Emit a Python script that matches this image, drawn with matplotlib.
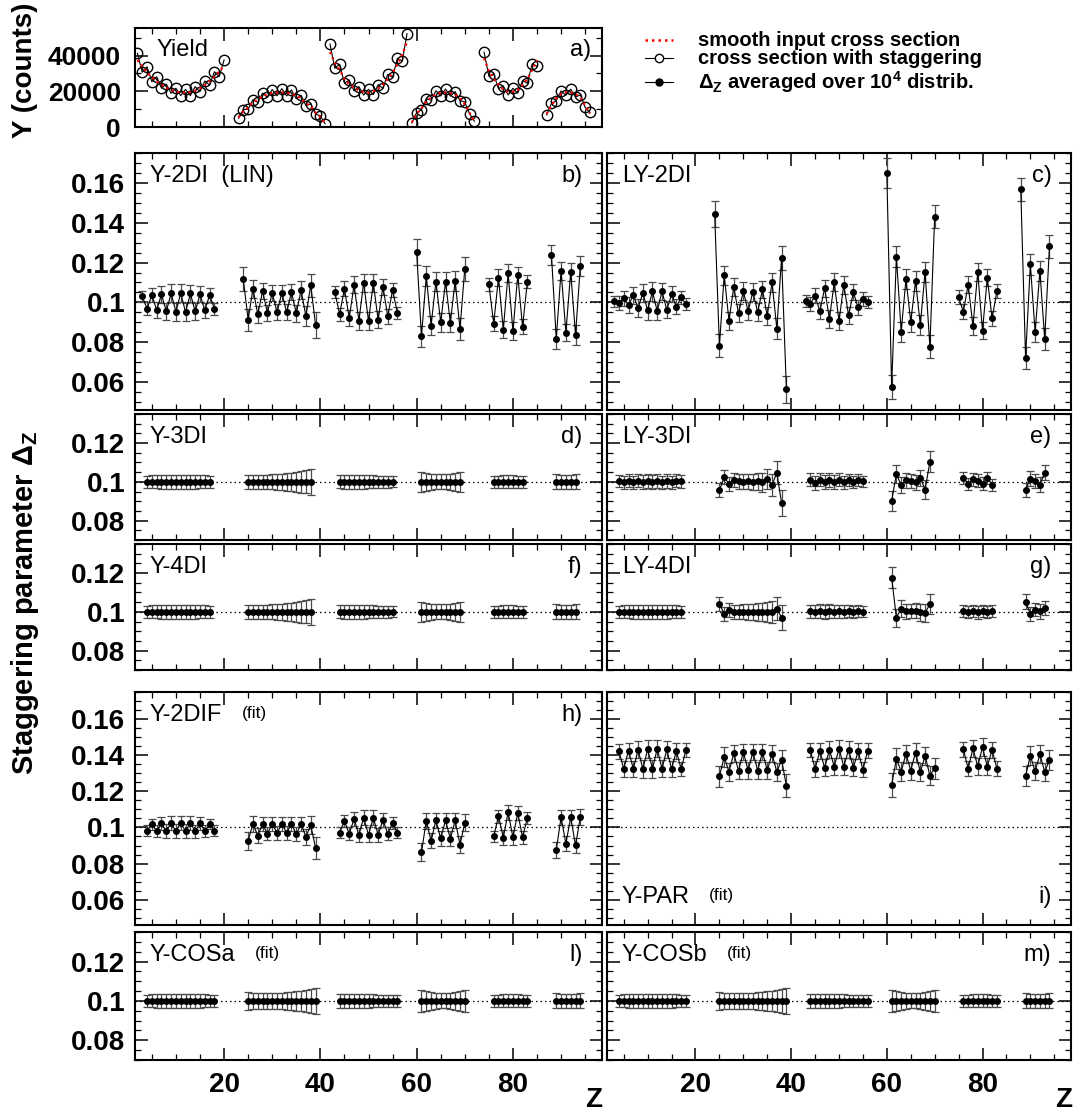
import matplotlib
matplotlib.use('Agg')
import matplotlib.pyplot as plt
from matplotlib.ticker import MultipleLocator, FuncFormatter
from matplotlib.lines import Line2D
import numpy as np

plt.rcParams['font.family'] = ['Liberation Sans', 'DejaVu Sans']
plt.rcParams['mathtext.fontset'] = 'custom'
plt.rcParams['mathtext.rm'] = 'Liberation Sans'
plt.rcParams['mathtext.it'] = 'Liberation Sans:italic'
plt.rcParams['mathtext.bf'] = 'Liberation Sans:bold'

# ---------------- data ----------------
# Yield panel (a)
yield_z0 = [2, 23, 42, 59, 74, 87]
yield_vals = [
    [41300, 30650, 33800, 25400, 28200, 21700, 24100, 18900, 21700, 17600, 21100, 17600, 22600, 19800, 25800, 23500, 31000, 28200, 37600],
    [4900, 9800, 10000, 15300, 13800, 19000, 16600, 21000, 17500, 21500, 17400, 20800, 15800, 17800, 12000, 13000, 7300, 6200, 1800],
    [46500, 32900, 35100, 24500, 26300, 20200, 22600, 17900, 21100, 18200, 23700, 21700, 29500, 27800, 38500, 36900, 52300],
    [2300, 8100, 9600, 15800, 15000, 20300, 17400, 21300, 17300, 19800, 14800, 14000, 7300, 3300],
    [42000, 28500, 29800, 21500, 23000, 18000, 21700, 19000, 26000, 24500, 35500, 34000],
    [6800, 13200, 14800, 20200, 17800, 21200, 16800, 18000, 11000, 8200],
]
smooth_vals = [
    [37500, 34000, 30500, 28000, 25500, 23800, 22000, 20800, 19800, 19300, 19200, 19500, 20300, 21700, 23500, 25800, 28200, 31000, 34500],
    [5400, 8900, 11000, 13900, 15200, 17300, 18200, 19100, 19300, 19500, 19100, 18900, 17400, 16200, 13200, 11800, 8100, 5600, 2000],
    [42000, 36000, 32000, 27000, 24000, 22200, 20600, 19700, 19300, 20000, 21500, 23800, 26800, 30500, 35000, 40500, 47500],
    [2500, 7400, 10500, 14400, 16500, 18500, 19100, 19400, 19000, 18000, 16300, 12700, 8000, 3000],
    [38500, 31500, 27000, 23700, 21000, 19800, 19800, 20800, 23500, 27000, 32000, 37500],
    [7400, 12000, 16200, 18500, 19600, 19400, 18500, 16500, 12100, 7500],
]

# first Z of each group for each method
z0_2di = [3, 24, 43, 60, 75, 88]
z0_3di = [4, 25, 44, 61, 76, 89]
z0_fit = [4, 25, 44, 61, 76, 89]

# (b) Y-2DI
b_vals = [
    [0.1030, 0.0968, 0.1037, 0.0961, 0.1040, 0.0955, 0.1045, 0.0953, 0.1047, 0.0951, 0.1045, 0.0955, 0.1040, 0.0960, 0.1037, 0.0968],
    [0.1116, 0.0913, 0.1069, 0.0940, 0.1057, 0.0948, 0.1049, 0.0950, 0.1049, 0.0950, 0.1052, 0.0945, 0.1062, 0.0930, 0.1087, 0.0888],
    [0.1052, 0.0941, 0.1069, 0.0921, 0.1089, 0.0908, 0.1099, 0.0906, 0.1097, 0.0913, 0.1079, 0.0930, 0.1062, 0.0948],
    [0.1255, 0.0829, 0.1132, 0.0884, 0.1104, 0.0901, 0.1104, 0.0898, 0.1109, 0.0868, 0.1169],
    [0.1092, 0.0894, 0.1124, 0.0864, 0.1146, 0.0856, 0.1137, 0.0878, 0.1104],
    [0.1240, 0.0816, 0.1159, 0.0849, 0.1153, 0.0837, 0.1183],
]
b_errs = [
    [0.0029, 0.0033, 0.0037, 0.0040, 0.0042, 0.0044, 0.0045, 0.0046, 0.0046, 0.0045, 0.0044, 0.0042, 0.0040, 0.0037, 0.0033, 0.0029],
    [0.0060, 0.0055, 0.0045, 0.0042, 0.0040, 0.0040, 0.0040, 0.0040, 0.0040, 0.0040, 0.0040, 0.0042, 0.0045, 0.0050, 0.0058, 0.0065],
    [0.0030, 0.0033, 0.0037, 0.0040, 0.0043, 0.0045, 0.0046, 0.0046, 0.0045, 0.0043, 0.0040, 0.0037, 0.0033, 0.0030],
    [0.0065, 0.0055, 0.0050, 0.0048, 0.0047, 0.0047, 0.0047, 0.0048, 0.0050, 0.0055, 0.0060],
    [0.0033, 0.0037, 0.0042, 0.0045, 0.0046, 0.0045, 0.0042, 0.0037, 0.0033],
    [0.0050, 0.0050, 0.0045, 0.0045, 0.0045, 0.0050, 0.0050],
]
# (c) LY-2DI
c_vals = [
    [0.1005, 0.0997, 0.1020, 0.0988, 0.1035, 0.0972, 0.1047, 0.0960, 0.1055, 0.0956, 0.1055, 0.0963, 0.1040, 0.0978, 0.1025, 0.0992],
    [0.1446, 0.0782, 0.1137, 0.0908, 0.1077, 0.0945, 0.1057, 0.0955, 0.1054, 0.0951, 0.1065, 0.0931, 0.1101, 0.0868, 0.1225, 0.0563],
    [0.1007, 0.0992, 0.1034, 0.0955, 0.1072, 0.0915, 0.1101, 0.0906, 0.1089, 0.0935, 0.1050, 0.0975, 0.1017, 0.1000],
    [0.1649, 0.0576, 0.1230, 0.0853, 0.1117, 0.0903, 0.1107, 0.0888, 0.1153, 0.0777, 0.1431],
    [0.1025, 0.0953, 0.1089, 0.0881, 0.1151, 0.0859, 0.1124, 0.0920, 0.1055],
    [0.1568, 0.0722, 0.1191, 0.0851, 0.1158, 0.0816, 0.1282],
]
c_errs = [
    [0.0029, 0.0033, 0.0037, 0.0040, 0.0042, 0.0044, 0.0045, 0.0046, 0.0046, 0.0045, 0.0044, 0.0042, 0.0040, 0.0037, 0.0033, 0.0029],
    [0.0065, 0.0057, 0.0048, 0.0045, 0.0045, 0.0045, 0.0045, 0.0045, 0.0045, 0.0045, 0.0045, 0.0045, 0.0048, 0.0052, 0.0060, 0.0070],
    [0.0030, 0.0033, 0.0037, 0.0040, 0.0043, 0.0045, 0.0046, 0.0046, 0.0045, 0.0043, 0.0040, 0.0037, 0.0033, 0.0030],
    [0.0075, 0.0060, 0.0052, 0.0050, 0.0050, 0.0050, 0.0050, 0.0050, 0.0052, 0.0057, 0.0058],
    [0.0035, 0.0038, 0.0042, 0.0044, 0.0045, 0.0044, 0.0042, 0.0038, 0.0035],
    [0.0058, 0.0055, 0.0052, 0.0052, 0.0052, 0.0055, 0.0058],
]
# (d) Y-3DI, (f) Y-4DI : flat at 0.1
d_vals = [[0.1] * 14, [0.1] * 14, [0.1] * 12, [0.1] * 9, [0.1] * 7, [0.1] * 5]
f_vals = [[0.1] * 14, [0.1] * 14, [0.1] * 12, [0.1] * 9, [0.1] * 7, [0.1] * 5]
hi_errs = [
    [0.0032, 0.0033, 0.0034, 0.0035, 0.0035, 0.0036, 0.0036, 0.0036, 0.0036, 0.0035, 0.0035, 0.0034, 0.0033, 0.0032],
    [0.0037, 0.0036, 0.0036, 0.0036, 0.0037, 0.0038, 0.0040, 0.0042, 0.0045, 0.0048, 0.0052, 0.0056, 0.0060, 0.0066],
    [0.0034, 0.0035, 0.0036, 0.0036, 0.0036, 0.0035, 0.0034, 0.0033, 0.0032, 0.0031, 0.0030, 0.0029],
    [0.0052, 0.0046, 0.0042, 0.0039, 0.0038, 0.0039, 0.0042, 0.0047, 0.0053],
    [0.0031, 0.0032, 0.0033, 0.0033, 0.0033, 0.0032, 0.0031],
    [0.0038, 0.0037, 0.0036, 0.0037, 0.0038],
]
# (e) LY-3DI
e_vals = [
    [0.1004, 0.0997, 0.1006, 0.0997, 0.1006, 0.0997, 0.1006, 0.0997, 0.1006, 0.0997, 0.1005, 0.0998, 0.1006, 0.1002],
    [0.0958, 0.1023, 0.0991, 0.1009, 0.1002, 0.1000, 0.1002, 0.1000, 0.1002, 0.0998, 0.1014, 0.0983, 0.1047, 0.0890],
    [0.1012, 0.0995, 0.1012, 0.0998, 0.1010, 0.0998, 0.1010, 0.0998, 0.1008, 0.0998, 0.1008, 0.1003],
    [0.0901, 0.1040, 0.0983, 0.1009, 0.1005, 0.0997, 0.1021, 0.0960, 0.1104],
    [0.1021, 0.0990, 0.1014, 0.1005, 0.0991, 0.1019, 0.0986],
    [0.0958, 0.1017, 0.1005, 0.0986, 0.1047],
]
# (g) LY-4DI
g_vals = [
    [0.1] * 14,
    [0.1040, 0.0991, 0.1009, 0.1000, 0.1000, 0.1000, 0.1000, 0.1000, 0.1000, 0.1000, 0.1000, 0.1000, 0.1017, 0.0970],
    [0.1003, 0.1001, 0.1003, 0.1001, 0.1003, 0.1001, 0.1003, 0.1001, 0.1003, 0.1001, 0.1003, 0.1001],
    [0.1177, 0.0970, 0.1017, 0.1003, 0.1005, 0.1005, 0.0997, 0.0995, 0.1040],
    [0.1005, 0.0998, 0.1004, 0.0998, 0.1004, 0.0998, 0.1003],
    [0.1052, 0.0990, 0.1012, 0.1002, 0.1020],
]
# (h) Y-2DIF (fit)
h_vals = [
    [0.0983, 0.1017, 0.0981, 0.1022, 0.0980, 0.1023, 0.0980, 0.1024, 0.0980, 0.1024, 0.0980, 0.1022, 0.0981, 0.1019, 0.0983],
    [0.0927, 0.1020, 0.0955, 0.1020, 0.0966, 0.1020, 0.0970, 0.1020, 0.0970, 0.1020, 0.0963, 0.1020, 0.0948, 0.1013, 0.0888],
    [0.0972, 0.1035, 0.0965, 0.1048, 0.0959, 0.1054, 0.0959, 0.1054, 0.0959, 0.1041, 0.0965, 0.1026, 0.0972],
    [0.0862, 0.1037, 0.0926, 0.1039, 0.0940, 0.1039, 0.0937, 0.1039, 0.0905, 0.1026],
    [0.0950, 0.1063, 0.0944, 0.1084, 0.0946, 0.1080, 0.0946, 0.1052],
    [0.0875, 0.1056, 0.0911, 0.1056, 0.0901, 0.1056],
]
h_errs = [
    [0.0030, 0.0032, 0.0034, 0.0036, 0.0037, 0.0038, 0.0038, 0.0038, 0.0038, 0.0037, 0.0036, 0.0034, 0.0032, 0.0030, 0.0030],
    [0.0050, 0.0045, 0.0040, 0.0038, 0.0038, 0.0038, 0.0038, 0.0038, 0.0038, 0.0038, 0.0038, 0.0040, 0.0045, 0.0050, 0.0060],
    [0.0030, 0.0033, 0.0036, 0.0038, 0.0040, 0.0041, 0.0041, 0.0041, 0.0040, 0.0038, 0.0036, 0.0033, 0.0030],
    [0.0050, 0.0045, 0.0042, 0.0042, 0.0042, 0.0042, 0.0042, 0.0042, 0.0045, 0.0048],
    [0.0033, 0.0036, 0.0040, 0.0042, 0.0042, 0.0040, 0.0036, 0.0033],
    [0.0045, 0.0042, 0.0042, 0.0042, 0.0042, 0.0045],
]
# (i) Y-PAR (fit)
i_vals = [
    [0.1421, 0.1324, 0.1426, 0.1324, 0.1430, 0.1324, 0.1434, 0.1324, 0.1436, 0.1324, 0.1432, 0.1324, 0.1423, 0.1324, 0.1430],
    [0.1283, 0.1391, 0.1309, 0.1410, 0.1315, 0.1417, 0.1317, 0.1417, 0.1315, 0.1417, 0.1317, 0.1408, 0.1307, 0.1374, 0.1231],
    [0.1428, 0.1324, 0.1423, 0.1331, 0.1430, 0.1337, 0.1436, 0.1337, 0.1430, 0.1331, 0.1423, 0.1320, 0.1425],
    [0.1236, 0.1380, 0.1309, 0.1408, 0.1315, 0.1415, 0.1307, 0.1397, 0.1287, 0.1328],
    [0.1432, 0.1326, 0.1438, 0.1339, 0.1445, 0.1337, 0.1430, 0.1326],
    [0.1285, 0.1397, 0.1311, 0.1406, 0.1307, 0.1374],
]
i_errs = [
    [0.0040, 0.0042, 0.0044, 0.0046, 0.0047, 0.0048, 0.0048, 0.0048, 0.0048, 0.0047, 0.0046, 0.0044, 0.0042, 0.0040, 0.0040],
    [0.0060, 0.0055, 0.0050, 0.0047, 0.0046, 0.0046, 0.0046, 0.0046, 0.0046, 0.0046, 0.0046, 0.0048, 0.0050, 0.0055, 0.0065],
    [0.0040, 0.0042, 0.0045, 0.0047, 0.0048, 0.0049, 0.0049, 0.0049, 0.0048, 0.0046, 0.0044, 0.0042, 0.0040],
    [0.0065, 0.0058, 0.0052, 0.0050, 0.0050, 0.0050, 0.0050, 0.0050, 0.0053, 0.0058],
    [0.0040, 0.0043, 0.0046, 0.0048, 0.0048, 0.0046, 0.0043, 0.0040],
    [0.0055, 0.0052, 0.0050, 0.0050, 0.0052, 0.0055],
]
# (l) Y-COSa, (m) Y-COSb (fit): flat at 0.1
l_vals = [[0.1] * 15, [0.1] * 15, [0.1] * 13, [0.1] * 10, [0.1] * 8, [0.1] * 6]
m_vals = [[0.1] * 15, [0.1] * 15, [0.1] * 13, [0.1] * 10, [0.1] * 8, [0.1] * 6]
lm_errs = [
    [0.0032, 0.0033, 0.0034, 0.0035, 0.0035, 0.0036, 0.0036, 0.0036, 0.0036, 0.0035, 0.0035, 0.0034, 0.0033, 0.0032, 0.0032],
    [0.0045, 0.0042, 0.0040, 0.0039, 0.0039, 0.0040, 0.0041, 0.0042, 0.0044, 0.0046, 0.0049, 0.0052, 0.0056, 0.0060, 0.0065],
    [0.0034, 0.0035, 0.0036, 0.0036, 0.0036, 0.0035, 0.0034, 0.0033, 0.0032, 0.0031, 0.0030, 0.0029, 0.0029],
    [0.0055, 0.0049, 0.0044, 0.0040, 0.0038, 0.0038, 0.0040, 0.0044, 0.0049, 0.0055],
    [0.0031, 0.0032, 0.0033, 0.0033, 0.0033, 0.0033, 0.0032, 0.0031],
    [0.0038, 0.0037, 0.0036, 0.0036, 0.0037, 0.0038],
]

x_ticks = [20, 40, 60, 80]
x_ticks_labels = ['20', '40', '60', '80']

# ---------------- layout ----------------
W, H = 1073, 1111
fig = plt.figure(figsize=(W / 100, H / 100), dpi=100)

def rect(x0, x1, y0, y1):
    return [x0 / W, 1 - y1 / H, (x1 - x0) / W, (y1 - y0) / H]

LX = (135, 602)
RX = (607, 1071)
rows = {'a': (28, 127), 'b': (153, 410), 'd': (414, 540), 'f': (544, 670),
        'h': (692, 925), 'l': (932, 1060)}

TICK_FS = 20
LABEL_FS = 17
XLIM = (1.5, 98.5)

def style(ax, ylabels=True, xlabels=False, fs=TICK_FS, ypad=7):
    for s in ax.spines.values():
        s.set_linewidth(1.5)
    ax.set_xlim(*XLIM)
    ax.xaxis.set_major_locator(MultipleLocator(20))
    ax.xaxis.set_minor_locator(MultipleLocator(5))
    ax.tick_params(which='both', direction='in', top=True, right=True)
    ax.tick_params(which='major', length=9, width=1.1)
    ax.tick_params(which='minor', length=4.5, width=0.9)
    ax.tick_params(axis='y', pad=ypad)
    ax.tick_params(axis='x', pad=9)
    ax.tick_params(labelleft=ylabels, labelbottom=xlabels)
    for lab in ax.get_yticklabels() + ax.get_xticklabels():
        lab.set_fontweight('bold')
        lab.set_fontsize(fs)

fmt = FuncFormatter(lambda v, p: ('%.2f' % v).rstrip('0'))

def delta_panel(key, col, z0s, vals, errs, ylim, name, tag, fit=False,
                label_y=None, xlabels=False):
    x0, x1 = LX if col == 0 else RX
    y0, y1 = rows[key]
    ax = fig.add_axes(rect(x0, x1, y0, y1))
    for z0, v, e in zip(z0s, vals, errs):
        z = np.arange(z0, z0 + len(v))
        ax.errorbar(z, v, yerr=e, fmt='-o', color='black', ms=4.0, lw=0.8,
                    ecolor='#4a4a4a', elinewidth=0.9, capsize=2.9,
                    capthick=0.9, zorder=3)
    ax.axhline(0.1, color='black', ls=(0, (1.2, 2.4)), lw=0.9, zorder=1)
    ax.set_ylim(*ylim)
    ax.yaxis.set_major_locator(MultipleLocator(0.02))
    ax.yaxis.set_minor_locator(MultipleLocator(0.005))
    ax.yaxis.set_major_formatter(fmt)
    if xlabels:
        ax.set_xticks(x_ticks)
        ax.set_xticklabels(x_ticks_labels)
    style(ax, ylabels=(col == 0), xlabels=xlabels)
    ax.set_xlim(*XLIM)
    h_px = y1 - y0
    if label_y is None:
        ty = 1 - 23 / h_px
    else:
        ty = label_y
    t = ax.text(0.032, ty, name, transform=ax.transAxes, fontsize=LABEL_FS,
                va='center', ha='left')
    if fit:
        ax.annotate('(fit)', xy=(1, 0.5), xycoords=t, xytext=(14, 1),
                    textcoords='offset points', fontsize=12.5,
                    va='center', ha='left')
    ax.text(0.958, ty, tag, transform=ax.transAxes, fontsize=LABEL_FS,
            va='center', ha='right')
    return ax

# panel a
ax_a = fig.add_axes(rect(LX[0], LX[1], *rows['a']))
for z0, yv, sv in zip(yield_z0, yield_vals, smooth_vals):
    z = np.arange(z0, z0 + len(yv))
    ax_a.plot(z, yv, '-o', color='black', lw=0.8, ms=7.5, mfc='none',
              mec='black', mew=1.0, zorder=2)
    ax_a.plot(z, sv, color='red', ls=(0, (1, 1.6)), lw=1.6, zorder=3)
ax_a.set_ylim(0, 55500)
ax_a.yaxis.set_major_locator(MultipleLocator(20000))
ax_a.yaxis.set_minor_locator(MultipleLocator(10000))
style(ax_a, ylabels=True, xlabels=False, fs=19, ypad=10)
ax_a.text(0.045, 0.78, 'Yield', transform=ax_a.transAxes, fontsize=LABEL_FS,
          va='center', ha='left')
ax_a.text(0.976, 0.78, 'a)', transform=ax_a.transAxes, fontsize=LABEL_FS,
          va='center', ha='right')

YL_BIG = (0.046, 0.175)
YL_SMALL = (0.070, 0.135)
delta_panel('b', 0, z0_2di, b_vals, b_errs, YL_BIG, 'Y-2DI  (LIN)', 'b)')
delta_panel('b', 1, z0_2di, c_vals, c_errs, YL_BIG, 'LY-2DI', 'c)')
delta_panel('d', 0, z0_3di, d_vals, hi_errs, YL_SMALL, 'Y-3DI', 'd)')
delta_panel('d', 1, z0_3di, e_vals, hi_errs, YL_SMALL, 'LY-3DI', 'e)')
delta_panel('f', 0, z0_3di, f_vals, hi_errs, YL_SMALL, 'Y-4DI', 'f)')
delta_panel('f', 1, z0_3di, g_vals, hi_errs, YL_SMALL, 'LY-4DI', 'g)')
delta_panel('h', 0, z0_fit, h_vals, h_errs, YL_BIG, 'Y-2DIF', 'h)', fit=True)
delta_panel('h', 1, z0_fit, i_vals, i_errs, YL_BIG, 'Y-PAR', 'i)', fit=True,
            label_y=0.12)
delta_panel('l', 0, z0_fit, l_vals, lm_errs, YL_SMALL, 'Y-COSa', 'l)', fit=True,
            xlabels=True)
delta_panel('l', 1, z0_fit, m_vals, lm_errs, YL_SMALL, 'Y-COSb', 'm)', fit=True,
            xlabels=True)

# axis titles
fig.text(25 / W, 1 - 70 / H, 'Y (counts)', rotation=90, fontsize=20,
         fontweight='bold', ha='center', va='center')
fig.text(25 / W, 1 - 603 / H, 'Staggering parameter Δ$_\\mathbf{Z}$',
         rotation=90, fontsize=21, fontweight='bold', ha='center', va='center')
fig.text(594 / W, 1 - 1100 / H, 'Z', fontsize=20, fontweight='bold',
         ha='center', va='center')
fig.text(1064 / W, 1 - 1100 / H, 'Z', fontsize=20, fontweight='bold',
         ha='center', va='center')

# legend (manual, figure coordinates)
lx0, lx1, tx = 645 / W, 673 / W, 698 / W
ly = [1 - 40 / H, 1 - 58 / H, 1 - 82 / H]
fig.add_artist(Line2D([lx0, lx1], [ly[0], ly[0]], color='red',
                      ls=(0, (1, 1.6)), lw=1.8, transform=fig.transFigure))
fig.add_artist(Line2D([lx0, lx1], [ly[1], ly[1]], color='black', lw=0.8,
                      transform=fig.transFigure))
fig.add_artist(Line2D([(lx0 + lx1) / 2], [ly[1]], color='black', marker='o',
                      ms=6, mfc='white', mec='black', transform=fig.transFigure))
fig.add_artist(Line2D([lx0, lx1], [ly[2], ly[2]], color='black', lw=0.8,
                      transform=fig.transFigure))
fig.add_artist(Line2D([(lx0 + lx1) / 2], [ly[2]], color='black', marker='o',
                      ms=5, mfc='black', mec='black', transform=fig.transFigure))
leg_texts = ['smooth input cross section', 'cross section with staggering',
             'Δ$_\\mathbf{Z}$ averaged over 10$^\\mathbf{4}$ distrib.']
for yy, tt in zip(ly, leg_texts):
    fig.text(tx, yy, tt, fontsize=14.5, fontweight='bold', ha='left',
             va='center')

fig.savefig('out.png', dpi=100)
